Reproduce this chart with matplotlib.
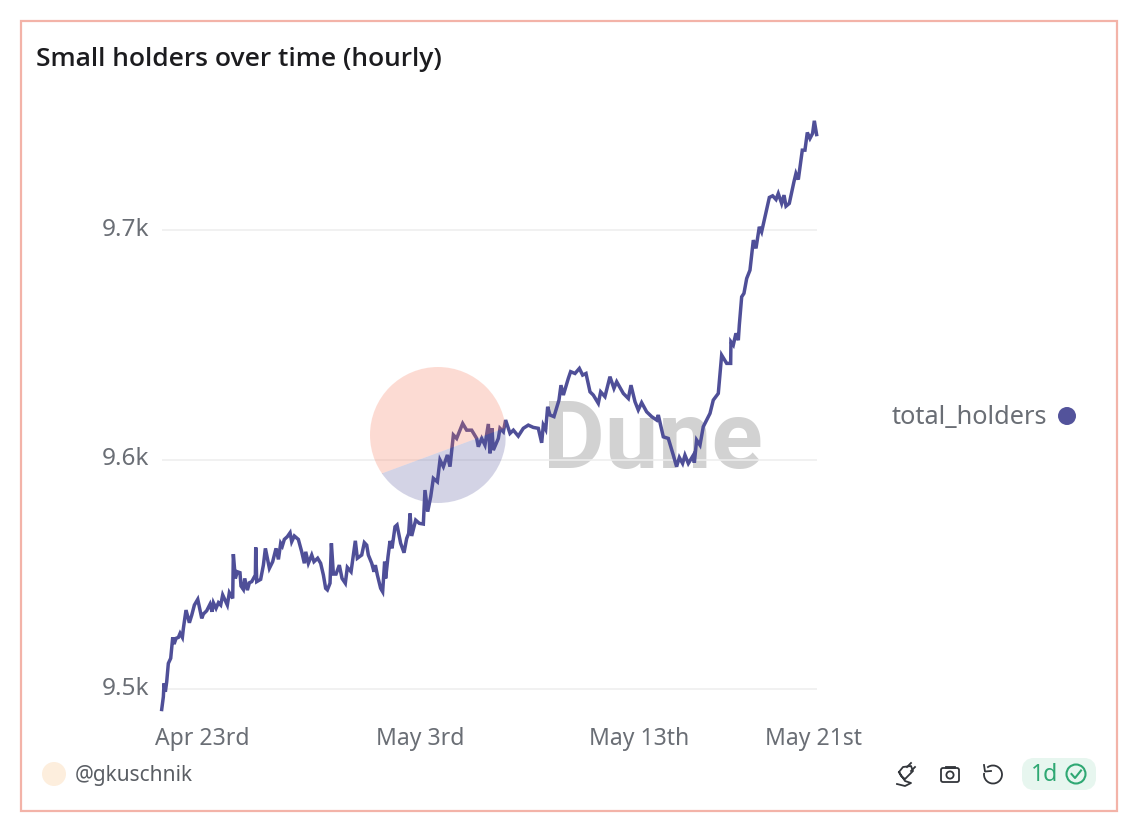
import matplotlib
matplotlib.use('Agg')
import matplotlib.pyplot as plt
from matplotlib.patches import Circle, Polygon, Rectangle, FancyBboxPatch, Arc
from matplotlib.ticker import FuncFormatter
from matplotlib.transforms import ScaledTranslation

# hours since Apr 23rd 00:00
hours = [-44.3, -42.5, -41.7, -40.3, -38.8, -37, -34.4, -32.2, -30.7, -28.5, -26, -24.1, -21.6, -20.5,
         -17.6, -13.9, -11.3, -8.4, -4.7, -0.3, 1.5, 5.1, 8.8, 11, 12.5, 15.4, 18, 20.5, 22.7, 27.8, 30,
         33.7, 34.4, 36.6, 38.8, 41.7, 42.8, 45.4, 46.9, 49.8, 52, 54.6, 58.6, 59, 60.1, 64.4, 67.4, 69.6,
         74, 77.6, 81.3, 83.9, 86.4, 88.2, 90.4, 93.7, 96.7, 98.5, 101.4, 105.8, 109.5, 112.4, 113.9,
         116.8, 120.5, 123, 127, 130.3, 133.3, 135.8, 137.7, 140.6, 142.1, 144.3, 147.2, 150.8, 153.8,
         157.4, 159.6, 163.7, 166.2, 168.4, 170.6, 175.4, 178.3, 180.9, 182.7, 186.4, 188.9, 190.4,
         192.6, 196.2, 198.4, 200.6, 201.7, 204.3, 206.5, 208.7, 212, 214.2, 218.2, 221.9, 224.8, 227,
         228.5, 230.3, 234.7, 238.7, 243.1, 244.9, 247.9, 251.2, 254.1, 258.5, 261.4, 265.1, 269.5,
         272.4, 276.1, 279.7, 286.3, 290.7, 296.2, 301.7, 303.5, 307.2, 310.8, 314.5, 316.3, 318.5, 320,
         325.5, 327.3, 331, 333.5, 338.3, 342, 347.4, 352.9, 358.4, 363.9, 369.4, 373.1, 374.9, 377.5,
         379.7, 382.2, 386.6, 392.1, 394.3, 396.9, 402.4, 404.9, 409.7, 414.5, 418.1, 421.8, 426.2,
         429.8, 435.3, 437.9, 442.6, 448.1, 452.5, 455.5, 462.8, 468.3, 471.2, 475.6, 479.2, 482.9,
         488.4, 493.9, 499.4, 501.2, 506.7, 512.2, 517.7, 521.3, 524.3, 527.9, 530.5, 534.2, 539.7,
         540.8, 543.3, 547, 550.6, 558, 561.6, 567.1, 570.8, 576.3, 580.7, 581, 583.6, 586.5, 589.1,
         590.2, 592.8, 595.3, 598.3, 601.9, 605.6, 608.5, 612.2, 614.7, 623.2, 626.8, 630.5, 633, 636.7,
         639.3, 641.5, 645.1, 650.2, 652.4, 655, 659.4, 662.3, 664.9, 667.8, 670.7, 672.6, 675.1]
holders = [9491.1, 9496.6, 9502.5, 9498.8, 9503.2, 9511.2, 9513.4, 9522.5, 9519.6, 9522.1, 9522.5, 9524.3,
           9522.5, 9526.4, 9534.4, 9528.9, 9532.2, 9536.6, 9539.1, 9530.8, 9532.7, 9534.1, 9537, 9533.7,
           9537.6, 9535.2, 9537.6, 9536.6, 9541, 9536.6, 9542, 9539.5, 9558.8, 9548.2, 9551.1, 9550.7,
           9544.9, 9543.4, 9548.2, 9543.1, 9546.3, 9546.8, 9549.7, 9561.7, 9546.8, 9547.8, 9554, 9561.3,
           9552.6, 9555.5, 9561.3, 9556.5, 9563.5, 9562.3, 9565.2, 9566.4, 9568.1, 9564.2, 9566.7, 9565.2,
           9559.8, 9554.8, 9559.8, 9554.8, 9558.4, 9555.5, 9557, 9554.8, 9549.7, 9543.9, 9543.2, 9546.1,
           9563.5, 9550.1, 9550.1, 9554, 9548.2, 9546.1, 9553, 9551.1, 9558.4, 9564.6, 9557, 9558.4,
           9563.8, 9562.7, 9558.4, 9554.8, 9551.1, 9554, 9549.7, 9543.9, 9542.4, 9555.5, 9548.2, 9557.7,
           9564.5, 9561.3, 9570.7, 9571.5, 9563.5, 9559.4, 9565.6, 9567.8, 9576.5, 9566.7, 9573.6, 9572.2,
           9571.9, 9586.7, 9577.3, 9583.8, 9591.8, 9590.3, 9599.8, 9596.9, 9602, 9596.9, 9610.7, 9609.2,
           9615.7, 9612.8, 9612.8, 9609.2, 9605.6, 9609.2, 9606.3, 9615.5, 9602.7, 9613.6, 9604.1, 9609.2,
           9613.6, 9612.1, 9617.2, 9611.4, 9612.8, 9610.2, 9613.6, 9615, 9614, 9613.6, 9607.3, 9615, 9613.1,
           9623, 9619.4, 9618.7, 9625.9, 9632.4, 9628.1, 9635.4, 9638.3, 9637.5, 9639.7, 9636.8, 9637.5,
           9629.5, 9628.1, 9624.5, 9629.5, 9627.4, 9636.1, 9631, 9633.9, 9628.8, 9626.6, 9632.4, 9625.2,
           9621.6, 9624.8, 9620.8, 9618.7, 9617.2, 9619.4, 9609.9, 9609.2, 9601.9, 9596.9, 9600.9, 9598.3,
           9601.9, 9598.3, 9601.9, 9598.6, 9608.5, 9606.3, 9614.3, 9620.1, 9625.9, 9628.8, 9645.5, 9641.9,
           9641.9, 9651.3, 9649.9, 9655, 9652, 9658.6, 9670.9, 9672.4, 9678.9, 9682.5, 9695.6, 9692, 9701.4,
           9699.2, 9714.2, 9714.9, 9713.3, 9715.9, 9711.6, 9715.2, 9710.4, 9711.6, 9721, 9724.6, 9722,
           9734.8, 9734.8, 9742.5, 9739.9, 9742.1, 9747.6, 9741.6]
x_ticks = [0, 240, 480, 672]
x_labels = ['Apr 23rd', 'May 3rd', 'May 13th', 'May 21st']
y_ticks = [9500, 9600, 9700]

FONT = 'Noto Sans'
LINE = '#4f4f98'
GREY = '#6a6e75'
W, H = 1142, 832

plt.rcParams['font.family'] = FONT
fig = plt.figure(figsize=(W / 100, H / 100), dpi=100, facecolor='white')


def pixel_axes(z):
    a = fig.add_axes([0, 0, 1, 1], zorder=z)
    a.set_xlim(0, W)
    a.set_ylim(H, 0)
    a.axis('off')
    return a


# watermark text sits under the chart, the circle on top of it
back = pixel_axes(0)
back.text(543, 468, 'Dune', fontsize=68.5, fontweight='bold', color='#d2d2d2', va='baseline', ha='left',
          family='Roboto')
back.add_patch(Rectangle((21, 21), 1096, 790, fill=False, ec='#f3b3a8', lw=1.6))

ax = fig.add_axes([161.7 / W, (H - 712) / H, 654.9 / W, 602 / H], zorder=1)
ax.patch.set_alpha(0)
ax.plot(hours, holders, color=LINE, lw=2.5, solid_joinstyle='miter', clip_on=False)
ax.set_xlim(-44.3, 675.1)
ax.set_ylim(9490, 9752.3)
ax.set_xticks(x_ticks)
ax.set_xticklabels(x_labels)
ax.set_yticks(y_ticks)
ax.yaxis.set_major_formatter(FuncFormatter(lambda v, p: f'{v / 1000:.1f}k'))
ax.grid(axis='y', color='#eeeeee', lw=1.1)
ax.set_axisbelow(True)
ax.tick_params(axis='both', length=0, labelsize=16.5, labelcolor=GREY)
ax.tick_params(axis='y', pad=9, labelsize=17.5)
ax.tick_params(axis='x', pad=11)
for s in ax.spines.values():
    s.set_visible(False)
up = ScaledTranslation(0, 2.5 / 72, fig.dpi_scale_trans)
for lab in ax.get_yticklabels():
    lab.set_transform(lab.get_transform() + up)

top = pixel_axes(2)
edge_l, edge_r = (383, 473), (505, 428)
upper = Polygon([edge_l, edge_r, (510, 360), (365, 360), (365, 500)], fc='#f77353', ec='none', alpha=0.25)
lower = Polygon([edge_l, edge_r, (510, 510), (365, 510), (365, 480)], fc='#53539b', ec='none', alpha=0.25)
for part in (upper, lower):
    top.add_patch(part)
    part.set_clip_path(Circle((438, 435), 68, transform=top.transData))

top.text(36, 60, 'Small holders over time (hourly)', fontsize=19, fontweight='semibold',
         color='#1c1c1f', va='center', ha='left', family='Open Sans')
top.text(1047, 417, 'total_holders', fontsize=18.2, color=GREY, va='center', ha='right')
top.add_patch(Circle((1067, 416), 9, fc='#53539b', ec='none'))

# footer
top.add_patch(Circle((54, 774), 12, fc='#fdeedd', ec='none'))
top.text(75, 775, '@gkuschnik', fontsize=15, color='#5a5e64', va='center', ha='left')
top.add_patch(FancyBboxPatch((1028, 764), 62, 20, boxstyle='round,pad=0,rounding_size=6', fc='#e7f6ef', ec='#e7f6ef', lw=12 * 0.72))
top.text(1031, 775, '1d', fontsize=16.5, color='#2fa873', va='center', ha='left')
top.add_patch(Circle((1076, 774), 9.5, fc='none', ec='#2fa873', lw=1.5))
top.plot([1071.5, 1075, 1081], [774, 778, 770.5], color='#2fa873', lw=1.5)

# camera icon
ICON = '#33363b'
top.add_patch(FancyBboxPatch((941, 768), 18, 14, boxstyle='round,pad=0,rounding_size=2', fc='none', ec=ICON, lw=1.3))
top.add_patch(Rectangle((945, 765.5), 10, 2.5, fc=ICON, ec=ICON, lw=0.6))
top.add_patch(Circle((950, 775), 3.6, fc='none', ec=ICON, lw=1.3))

# undo icon
top.add_patch(Arc((993, 774.5), 18, 18, theta1=-130, theta2=190, ec=ICON, lw=1.3))
top.plot([984, 985, 991], [765, 771.5, 771], color=ICON, lw=1.3)

# plug icon
top.plot([899, 903, 911, 913, 905, 901, 899, 905, 911, 905, 897],
         [772, 767, 766, 771, 779, 776, 772, 781, 783, 786, 784], color=ICON, lw=1.3)
top.plot([907, 911], [767, 763], color=ICON, lw=1.3)
top.plot([911, 915], [771, 767], color=ICON, lw=1.3)

fig.savefig('out.png', dpi=100)
